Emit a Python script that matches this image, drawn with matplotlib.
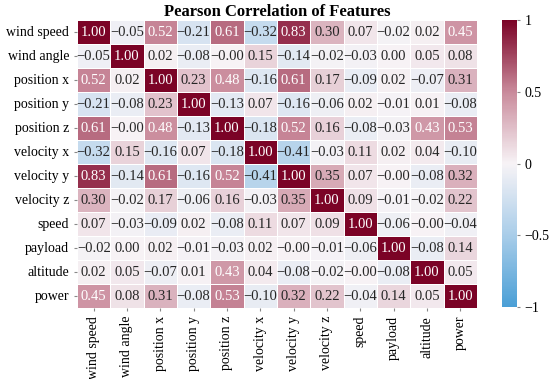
import numpy as np
import matplotlib
matplotlib.use("Agg")
import matplotlib.pyplot as plt
import seaborn as sns
from matplotlib.colors import LinearSegmentedColormap

# --------------------------------
# DATA
# --------------------------------
features = ["wind speed", "wind angle", "position x", "position y", "position z",
            "velocity x", "velocity y", "velocity z", "speed", "payload",
            "altitude", "power"]

row_wind_speed = [1.00, -0.05, 0.52, -0.21, 0.61, -0.32, 0.83, 0.30, 0.07, -0.02, 0.02, 0.45]
row_wind_angle = [-0.05, 1.00, 0.02, -0.08, -0.00, 0.15, -0.14, -0.02, -0.03, 0.00, 0.05, 0.08]
row_position_x = [0.52, 0.02, 1.00, 0.23, 0.48, -0.16, 0.61, 0.17, -0.09, 0.02, -0.07, 0.31]
row_position_y = [-0.21, -0.08, 0.23, 1.00, -0.13, 0.07, -0.16, -0.06, 0.02, -0.01, 0.01, -0.08]
row_position_z = [0.61, -0.00, 0.48, -0.13, 1.00, -0.18, 0.52, 0.16, -0.08, -0.03, 0.43, 0.53]
row_velocity_x = [-0.32, 0.15, -0.16, 0.07, -0.18, 1.00, -0.41, -0.03, 0.11, 0.02, 0.04, -0.10]
row_velocity_y = [0.83, -0.14, 0.61, -0.16, 0.52, -0.41, 1.00, 0.35, 0.07, -0.00, -0.08, 0.32]
row_velocity_z = [0.30, -0.02, 0.17, -0.06, 0.16, -0.03, 0.35, 1.00, 0.09, -0.01, -0.02, 0.22]
row_speed = [0.07, -0.03, -0.09, 0.02, -0.08, 0.11, 0.07, 0.09, 1.00, -0.06, -0.00, -0.04]
row_payload = [-0.02, 0.00, 0.02, -0.01, -0.03, 0.02, -0.00, -0.01, -0.06, 1.00, -0.08, 0.14]
row_altitude = [0.02, 0.05, -0.07, 0.01, 0.43, 0.04, -0.08, -0.02, -0.00, -0.08, 1.00, 0.05]
row_power = [0.45, 0.08, 0.31, -0.08, 0.53, -0.10, 0.32, 0.22, -0.04, 0.14, 0.05, 1.00]

cbar_ticks = [-1, -0.5, 0, 0.5, 1]
cbar_labels = ["\u22121", "\u22120.5", "0", "0.5", "1"]

corr = np.array([row_wind_speed, row_wind_angle, row_position_x, row_position_y,
                 row_position_z, row_velocity_x, row_velocity_y, row_velocity_z,
                 row_speed, row_payload, row_altitude, row_power])

# annotation strings with a proper minus sign
labels = np.array([[f"{v:.2f}".replace("-", "\u2212") for v in row] for row in corr])

# --------------------------------
# PLOT
# --------------------------------
plt.rcParams["font.family"] = ["Liberation Serif", "DejaVu Serif"]
plt.rcParams["font.size"] = 10

cmap = LinearSegmentedColormap.from_list(
    "bwr_custom",
    [(0.0, "#4a9fd6"), (0.25, "#a9cde9"), (0.5, "#f7f3f6"), (0.75, "#c98a9b"), (1.0, "#7b0326")])

fig = plt.figure(figsize=(5.5, 3.79), dpi=100)
ax = fig.add_axes([0.140, 0.187, 0.727, 0.760])
cax = fig.add_axes([0.913, 0.190, 0.027, 0.757])

sns.heatmap(corr, ax=ax, cbar_ax=cax, cmap=cmap, vmin=-1, vmax=1, center=0,
            annot=labels, fmt="", annot_kws={"fontsize": 10.5},
            linewidths=0.6, linecolor="white",
            xticklabels=features, yticklabels=features)

ax.set_title("Pearson Correlation of Features", fontsize=12, fontweight="bold", pad=2)
ax.tick_params(axis="x", rotation=90, labelsize=10, length=2, color="#888888")
ax.tick_params(axis="y", rotation=0, labelsize=10, length=2, color="#888888")

cbar = ax.collections[0].colorbar
cbar.outline.set_visible(False)
cbar.set_ticks(cbar_ticks)
cbar.set_ticklabels(cbar_labels)
cbar.ax.tick_params(labelsize=10, length=2, color="#888888")

fig.savefig("out.png", dpi=100)
